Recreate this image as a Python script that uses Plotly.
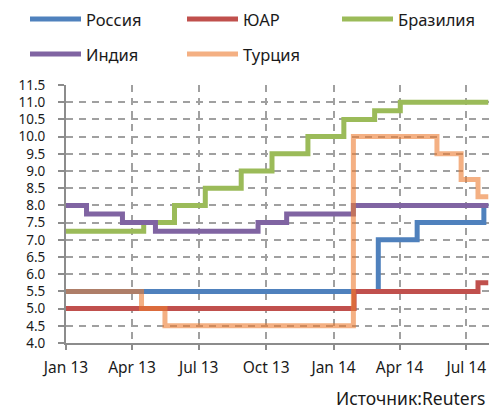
import plotly.graph_objects as go

# ---- data ----
series_names = ["Россия", "ЮАР", "Бразилия", "Индия", "Турция"]
series_colors = ["#4F81BD", "#C0504D", "#9BBB59", "#8064A2", "#ED7D31"]

russia_dates = ["2013-01-01", "2014-03-03", "2014-04-25", "2014-07-25", "2014-07-31"]
russia_vals = [5.5, 7.0, 7.5, 8.0, 8.0]

sa_dates = ["2013-01-01", "2014-01-29", "2014-07-17", "2014-07-31"]
sa_vals = [5.0, 5.5, 5.75, 5.75]

brazil_dates = ["2013-01-01", "2013-04-17", "2013-05-29", "2013-07-10", "2013-08-28",
                "2013-10-09", "2013-11-27", "2014-01-15", "2014-02-26", "2014-04-02", "2014-07-31"]
brazil_vals = [7.25, 7.5, 8.0, 8.5, 9.0, 9.5, 10.0, 10.5, 10.75, 11.0, 11.0]

india_dates = ["2013-01-01", "2013-01-29", "2013-03-19", "2013-05-03", "2013-09-20",
               "2013-10-29", "2014-01-28", "2014-07-31"]
india_vals = [8.0, 7.75, 7.5, 7.25, 7.5, 7.75, 8.0, 8.0]

turkey_dates = ["2013-01-01", "2013-04-14", "2013-05-16", "2014-01-28", "2014-05-22",
                "2014-06-24", "2014-07-17", "2014-07-31"]
turkey_vals = [5.5, 5.0, 4.5, 10.0, 9.5, 8.75, 8.25, 8.25]

x_range = ["2013-01-01", "2014-08-01"]
y_ticks = [4.0, 4.5, 5.0, 5.5, 6.0, 6.5, 7.0, 7.5, 8.0, 8.5, 9.0, 9.5, 10.0, 10.5, 11.0, 11.5]
source_text = "Источник:Reuters"

all_dates = [russia_dates, sa_dates, brazil_dates, india_dates, turkey_dates]
all_vals = [russia_vals, sa_vals, brazil_vals, india_vals, turkey_vals]
opacities = [1, 1, 1, 1, 0.6]

FONT = "Noto Sans"
TXT = "#1a1a1a"
W, H = 497, 410
L, R, T, B = 66, 8, 85, 67
pw, ph = W - L - R, H - T - B


def px_x(p):
    return (p - L) / pw


def px_y(p):
    return (H - B - p) / ph


fig = go.Figure()
for name, color, d, v, op in zip(series_names, series_colors, all_dates, all_vals, opacities):
    fig.add_trace(go.Scatter(
        x=d, y=v, name=name, mode="lines", line=dict(color=color, width=5, shape="hv"),
        opacity=op, showlegend=False))

# manual legend
legend_pos = [(28, 19), (185, 19), (340, 19), (28, 54), (185, 54)]
shapes = []
annotations = []
for (lx, ly), name, color, op in zip(legend_pos, series_names, series_colors, opacities):
    shapes.append(dict(type="line", xref="paper", yref="paper",
                       x0=px_x(lx + 2), x1=px_x(lx + 53), y0=px_y(ly), y1=px_y(ly),
                       line=dict(color=color, width=5), opacity=op))
    annotations.append(dict(xref="paper", yref="paper", x=px_x(lx + 56), y=px_y(ly),
                            text=name, showarrow=False, xanchor="left", yanchor="middle",
                            font=dict(family=FONT, size=16.5, color=TXT)))

annotations.append(dict(xref="paper", yref="paper", x=px_x(487), y=px_y(398),
                        text=source_text, showarrow=False, xanchor="right", yanchor="middle",
                        font=dict(family=FONT, size=17.5, color=TXT)))

fig.update_layout(
    width=W, height=H,
    margin=dict(l=L, r=R, t=T, b=B),
    paper_bgcolor="white", plot_bgcolor="white",
    shapes=shapes, annotations=annotations,
    font=dict(family=FONT, size=15, color=TXT),
)
fig.update_xaxes(
    type="date", range=x_range, tick0="2013-01-01", dtick="M3", tickformat="%b %y",
    showgrid=True, gridcolor="#A0A0A0", griddash="7px,6px", gridwidth=1.5,
    showline=True, linecolor="#8C8C8C", linewidth=2,
    ticks="outside", ticklen=5, tickcolor="#8C8C8C", tickwidth=1.5,
    tickfont=dict(family=FONT, size=15.5, color=TXT), ticklabelstandoff=4,
)
fig.update_yaxes(
    range=[4.0, 11.5], tickvals=y_ticks, tickformat=".1f",
    showgrid=True, gridcolor="#A0A0A0", griddash="7px,6px", gridwidth=1.5,
    showline=True, linecolor="#8C8C8C", linewidth=2,
    ticks="outside", ticklen=6, tickcolor="#8C8C8C", tickwidth=1.5,
    tickfont=dict(family=FONT, size=13.5, color=TXT), zeroline=False,
    ticklabelstandoff=10,
)

fig.write_html("out.html", config={"displayModeBar": False},
               post_script="document.body.style.margin='0';")
